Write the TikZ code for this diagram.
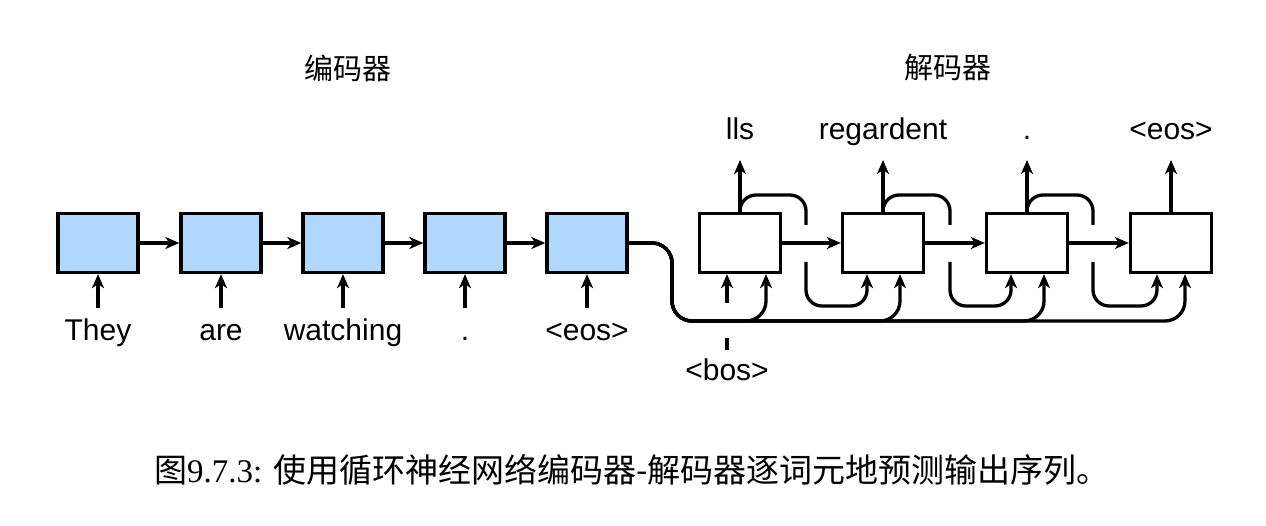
\documentclass[tikz,border=0pt]{standalone}
\usepackage{fontspec}
\setmainfont{Liberation Sans}
\newfontfamily\cjk{Noto Sans CJK SC}
\newfontfamily\capserif{Liberation Serif}
\usetikzlibrary{arrows.meta}
\definecolor{encblue}{RGB}{176,216,255}
\begin{document}
\begin{tikzpicture}[x=1pt,y=-1pt,
  lw/.style={line width=3.3pt},
  encbox/.style={draw, lw, fill=encblue, minimum width=80pt, minimum height=59pt, inner sep=0pt},
  decbox/.style={draw, lw, fill=white, minimum width=81pt, minimum height=59pt, inner sep=0pt},
  arr/.style={lw, -{Stealth[length=14pt,width=12pt,inset=4pt]}},
  ln/.style={lw},
  lbl/.style={font=\fontsize{30}{32}\selectfont, inner sep=0pt, anchor=base},
  ttl/.style={font=\cjk\fontsize{29}{32}\selectfont, inner sep=0pt},
  rc/.style={rounded corners=16pt}
]
\useasboundingbox (0,0) rectangle (1266,526);
% titles
\node[ttl] (tenc) at (348,68) {编码器};
\node[ttl] (tdec) at (948,68) {解码器};
% encoder
\foreach \i/\x/\w in {1/98/They,2/221/are,3/343/watching,4/465/.,5/587/<eos>} {
  \node[encbox] (e\i) at (\x,243) {};
  \node[lbl] (w\i) at (\x,341) {\w};
  \coordinate (ein\i) at (\x,308);
  \draw[arr] (ein\i) -- (e\i.south);
}
\foreach \a/\b in {1/2,2/3,3/4,4/5} \draw[arr] (e\a.east) -- (e\b.west);
% decoder boxes
\foreach \i/\x/\w in {1/740/lls,2/883/regardent,3/1027/.,4/1171/<eos>} {
  \node[decbox] (d\i) at (\x,243) {};
  \node[lbl] (o\i) at (\x,140) {\w};
  \coordinate (dout\i) at (\x,160);
  \draw[arr] (d\i.north) -- (dout\i);
}
\foreach \a/\b in {1/2,2/3,3/4} \draw[arr] (d\a.east) -- (d\b.west);
% feedback loops
\foreach \a/\b/\lx/\fx in {1/2/806/867,2/3/950/1011,3/4/1093/1157} {
  \coordinate (ft\a) at (\lx,195);
  \coordinate (fm\a) at (\lx,225);
  \coordinate (fn\a) at (\lx,262);
  \coordinate (fb\a) at (\lx,306);
  \coordinate (fe\a) at (\fx,306);
  \draw[ln,rc] (d\a.north) |- (ft\a) -- (fm\a);
  \draw[arr,rc] (fn\a) -- (fb\a) -- (fe\a) -- (d\b.south -| fe\a);
}
% context line
\coordinate (c1) at (672,243);
\coordinate (c2) at (672,321);
\foreach \b/\cx in {1/766,2/900,3/1044,4/1185} {
  \coordinate (ce\b) at (\cx,321);
  \draw[arr,rounded corners=20pt] (e5.east) -- (c1) -- (c2) -- (ce\b) -- (d\b.south -| ce\b);
}
% bos
\node[lbl] (bos) at (727,381) {<bos>};
\coordinate (b1) at (727,350);
\coordinate (b2) at (727,338);
\coordinate (b3) at (727,303);
\draw[ln] (b1) -- (b2);
\draw[arr] (b3) -- (d1.south -| b3);
% caption
\node[inner sep=0pt, font=\fontsize{33}{36}\selectfont] (cap) at (632,470) {{\cjk 图}\capserif 9.7.3: {\cjk 使用循环神经网络编码器-解码器逐词元地预测输出序列。}};
\end{tikzpicture}
\end{document}
